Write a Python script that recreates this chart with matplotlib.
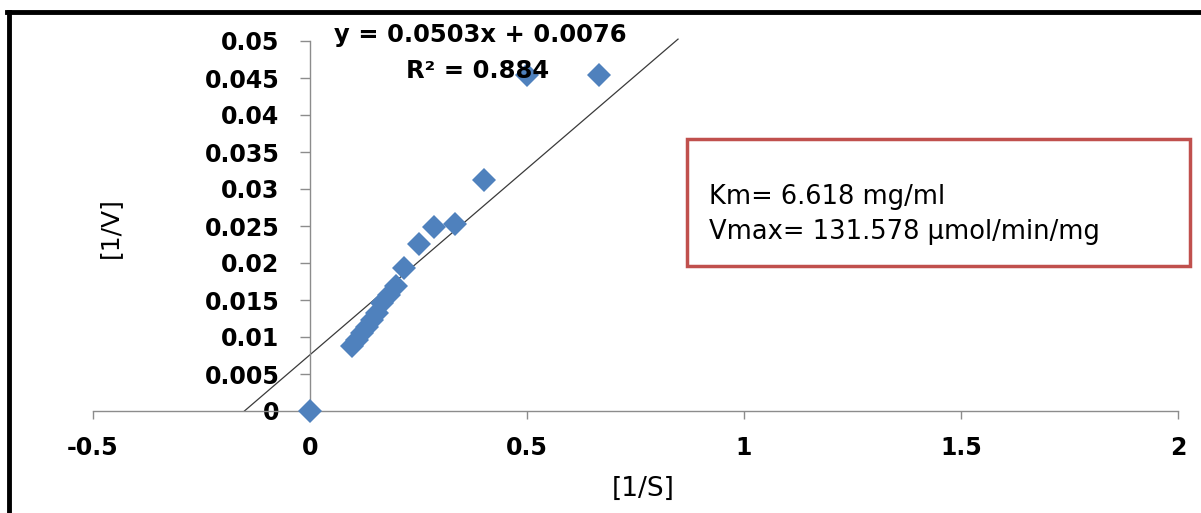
import matplotlib
matplotlib.use("Agg")
import matplotlib.pyplot as plt
from matplotlib.lines import Line2D
from matplotlib.patches import Rectangle

# ---- data ----
inv_s = [0.0, 0.667, 0.5, 0.4, 0.333, 0.286, 0.25, 0.217, 0.199, 0.182, 0.166,
         0.155, 0.143, 0.132, 0.120, 0.109, 0.097]
inv_v = [0.0, 0.0454, 0.0454, 0.0312, 0.0253, 0.0249, 0.0226, 0.0193, 0.0169,
         0.0157, 0.0146, 0.0132, 0.0123, 0.0114, 0.0105, 0.0096, 0.0088]
slope = 0.0503
intercept = 0.0076
trend_x = [-0.151, 0.848]
xticks = [-0.5, 0, 0.5, 1, 1.5, 2]
xtick_labels = ["-0.5", "0", "0.5", "1", "1.5", "2"]
yticks = [0, 0.005, 0.01, 0.015, 0.02, 0.025, 0.03, 0.035, 0.04, 0.045, 0.05]
ytick_labels = ["0", "0.005", "0.01", "0.015", "0.02", "0.025", "0.03",
                "0.035", "0.04", "0.045", "0.05"]
eq_text = "y = 0.0503x + 0.0076"
r2_text = "R² = 0.884"
box_lines = ["Km= 6.618 mg/ml", "Vmax= 131.578 µmol/min/mg"]

FONT = ["DejaVu Sans"]
plt.rcParams["font.family"] = FONT

W, H = 1201, 513
fig = plt.figure(figsize=(W / 100, H / 100), dpi=100)
ax = fig.add_axes([93 / W, 1 - 411 / H, (1178 - 93) / W, (411 - 41) / H])

ax.set_xlim(-0.5, 2)
ax.set_ylim(0, 0.05)

axis_color = "#8c8c8c"
for s in ["top", "right"]:
    ax.spines[s].set_visible(False)
ax.spines["left"].set_position(("data", 0))
ax.spines["bottom"].set_position(("data", 0))
ax.spines["left"].set_color(axis_color)
ax.spines["bottom"].set_color(axis_color)
ax.spines["left"].set_linewidth(1.0)
ax.spines["bottom"].set_linewidth(1.0)

ax.set_xticks(xticks)
ax.set_xticklabels(xtick_labels)
ax.set_yticks(yticks)
ax.set_yticklabels(ytick_labels)
ax.tick_params(axis="both", direction="out", width=1.0,
               color=axis_color, labelsize=17)
ax.tick_params(axis="x", length=6, pad=12)
ax.tick_params(axis="y", length=7, pad=15)
for lab in ax.get_xticklabels() + ax.get_yticklabels():
    lab.set_fontweight("bold")

# trend line
trend_y = [slope * x + intercept for x in trend_x]
ax.plot(trend_x, trend_y, color="#3a3a3a", lw=0.9, zorder=2, clip_on=False)

# data points
ax.plot(inv_s, inv_v, linestyle="none", marker="D", markersize=12,
        color="#4F81BD", markeredgewidth=0, zorder=3, clip_on=False)

ax.set_xlabel("[1/S]", fontsize=19)
ax.set_ylabel("[1/V]", fontsize=18)
ax.xaxis.set_label_coords((643 - 93) / 1085, (411 - 489) / 370)
ax.yaxis.set_label_coords((110 - 93) / 1085, (411 - 228) / 370)
ax.xaxis.label.set_va("center")
ax.yaxis.label.set_va("center")

# equation texts
fig.text(480 / W, 1 - 35 / H, eq_text, ha="center", va="center",
         fontsize=17.5, fontweight="bold", color="black", zorder=1)
fig.text(478 / W, 1 - 71 / H, r2_text, ha="center", va="center",
         fontsize=17.5, fontweight="bold", color="black", zorder=1)

# annotation box
fig.patches.append(Rectangle((687 / W, 1 - 266 / H), (1190 - 687) / W,
                             (266 - 139) / H, transform=fig.transFigure,
                             fill=False, edgecolor="#C0504D", lw=2.5))
fig.text(709 / W, 1 - 197 / H, box_lines[0], ha="left", va="center",
         fontsize=18.5, color="black")
fig.text(709 / W, 1 - 232 / H, box_lines[1], ha="left", va="center",
         fontsize=18.5, color="black")

# outer frame (left and top edges)
fig.lines.append(Line2D([8.5 / W, 8.5 / W], [0, 1 - 12 / H],
                        transform=fig.transFigure, color="black", lw=3.5))
fig.lines.append(Line2D([6.5 / W, 1], [1 - 12 / H, 1 - 12 / H],
                        transform=fig.transFigure, color="black", lw=3.5))

fig.savefig("out.png", dpi=100)
